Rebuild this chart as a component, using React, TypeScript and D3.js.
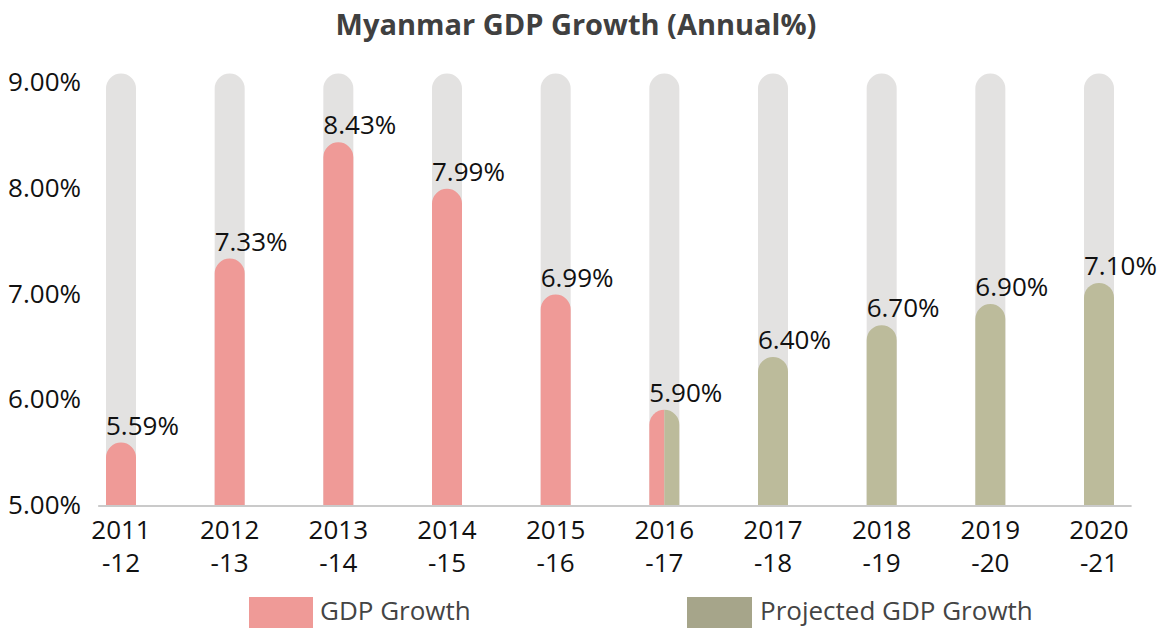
import React from 'react';
import * as d3 from 'd3';

const periods = ['2011-12', '2012-13', '2013-14', '2014-15', '2015-16', '2016-17', '2017-18', '2018-19', '2019-20', '2020-21'];
const actual: (number | null)[] = [5.59, 7.33, 8.43, 7.99, 6.99, 5.9, null, null, null, null];
const projected: (number | null)[] = [null, null, null, null, null, 5.9, 6.4, 6.7, 6.9, 7.1];
const yTicks = [5, 6, 7, 8, 9];
const trackMax = 9.08;

const W = 1173;
const H = 628;
const PINK = '#ef9a97';
const OLIVE = '#bcbb9b';
const OLIVE_LEGEND = '#a6a58a';
const TRACK = '#e3e2e1';
const FONT = '"Open Sans", sans-serif';

// rounded-top bar, whole or just one half
const barPath = (cx: number, w: number, top: number, base: number, part: string) => {
    const r = w / 2;
    const x0 = cx - r;
    const x1 = cx + r;
    const p = d3.path();
    if (part === 'left') {
        p.moveTo(x0, base);
        p.lineTo(x0, top + r);
        p.arc(cx, top + r, r, Math.PI, 1.5 * Math.PI);
        p.lineTo(cx, base);
    } else if (part === 'right') {
        p.moveTo(cx, base);
        p.lineTo(cx, top);
        p.arc(cx, top + r, r, 1.5 * Math.PI, 2 * Math.PI);
        p.lineTo(x1, base);
    } else {
        p.moveTo(x0, base);
        p.lineTo(x0, top + r);
        p.arc(cx, top + r, r, Math.PI, 2 * Math.PI);
        p.lineTo(x1, base);
    }
    p.closePath();
    return p.toString();
};

export default function App() {
    const x = d3.scalePoint<string>().domain(periods).range([121, 1099]);
    const y = d3.scaleLinear().domain([5, 9]).range([505, 82]);
    const bw = 30;
    const base = y(5);

    const fmt = (v: number) => v.toFixed(2) + '%';

    return (
        <svg width={W} height={H} style={{ position: 'absolute', left: 0, top: 0, fontFamily: FONT }}>
            <rect width={W} height={H} fill="#fff" />
            <text x={576} y={35} textAnchor="middle" fontSize={29} fontWeight={700} fill="#404040">
                Myanmar GDP Growth (Annual%)
            </text>

            {yTicks.map((t) => (
                <text key={t} x={81} y={y(t)} dy="0.35em" textAnchor="end" fontSize={26} fill="#111">
                    {fmt(t)}
                </text>
            ))}

            {periods.map((p) => (
                <path key={'t' + p} d={barPath(x(p)!, bw, y(trackMax), base, 'full')} fill={TRACK} />
            ))}

            {periods.map((p, i) => {
                const a = actual[i];
                const b = projected[i];
                const cx = x(p)!;
                if (a != null && b != null) {
                    return (
                        <g key={'b' + p}>
                            <path d={barPath(cx, bw, y(a), base, 'left')} fill={PINK} />
                            <path d={barPath(cx, bw, y(b), base, 'right')} fill={OLIVE} />
                        </g>
                    );
                }
                const v = (a ?? b)!;
                return <path key={'b' + p} d={barPath(cx, bw, y(v), base, 'full')} fill={a != null ? PINK : OLIVE} />;
            })}

            <line x1={x(periods[0])! - x.step() * 0.21} x2={x(periods[periods.length - 1])! + x.step() * 0.3}
                y1={base + 1} y2={base + 1} stroke="#cacaca" strokeWidth={2} />

            {periods.map((p, i) => {
                const v = (actual[i] ?? projected[i])!;
                return (
                    <text key={'l' + p} x={x(p)! - bw / 2} y={y(v) - 8} fontSize={26} fill="#111">
                        {fmt(v)}
                    </text>
                );
            })}

            {periods.map((p) => {
                const [yr, suf] = p.split('-');
                return (
                    <text key={'c' + p} x={x(p)!} textAnchor="middle" fontSize={26} fill="#111">
                        <tspan x={x(p)!} y={539}>{yr}</tspan>
                        <tspan x={x(p)!} y={572}>{'-' + suf}</tspan>
                    </text>
                );
            })}

            <g>
                <rect x={249} y={597} width={64} height={34} fill={PINK} />
                <text x={320} y={620} fontSize={26} fill="#444">GDP Growth</text>
                <rect x={687} y={597} width={65} height={34} fill={OLIVE_LEGEND} />
                <text x={760} y={620} fontSize={26} fill="#444">Projected GDP Growth</text>
            </g>
        </svg>
    );
}
